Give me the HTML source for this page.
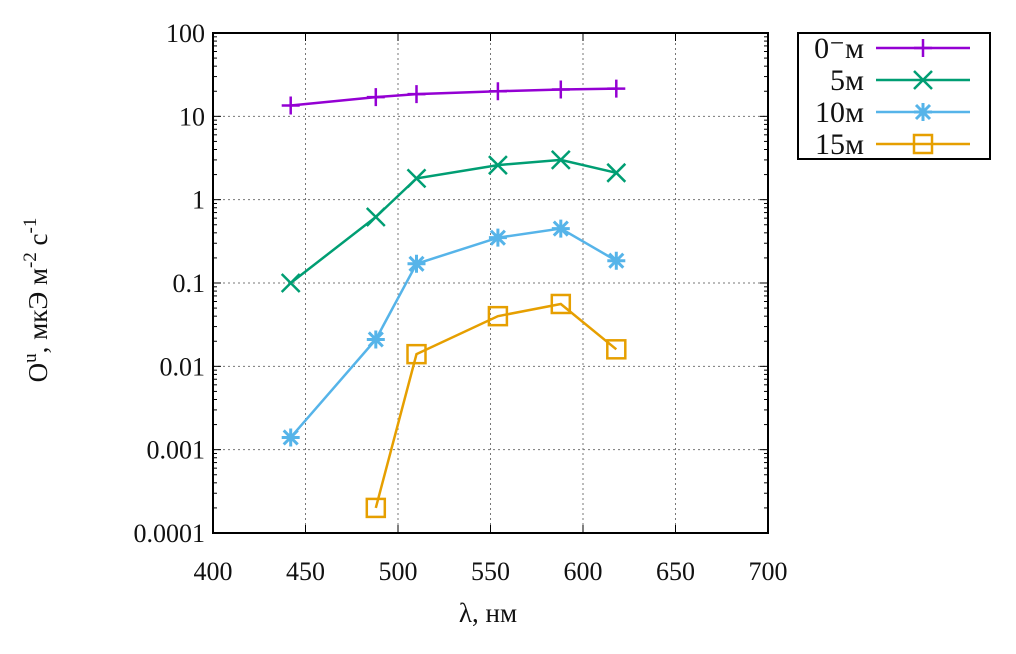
<!DOCTYPE html>
<html><head><meta charset="utf-8"><style>
body{margin:0;background:#fff;}
svg text{font-family:"Liberation Serif","DejaVu Serif",serif;fill:#111;}
</style></head><body>
<svg id="chart" width="1016" height="649" xmlns="http://www.w3.org/2000/svg">
<g id="grid"></g><g id="axes"></g><g id="series"></g><g id="legend"></g>
<text x="488" y="622" font-size="27" text-anchor="middle">λ, нм</text>
<text transform="translate(47,300) rotate(-90)" font-size="27" text-anchor="middle">O<tspan dy="-11" font-size="19">u</tspan><tspan dy="11">, мкЭ м</tspan><tspan dy="-11" font-size="19">-2</tspan><tspan dy="11"> с</tspan><tspan dy="-11" font-size="19">-1</tspan></text>
</svg>
<script>
const xTicks=[400,450,500,550,600,650,700];
const yTicks=[0.0001,0.001,0.01,0.1,1,10,100];
const yTickLabels=["0.0001","0.001","0.01","0.1","1","10","100"];
const wl0=[442,488,510,554,588,618];
const v0=[13.5,17,18.5,20,21,21.5];
const wl5=[442,488,510,554,588,618];
const v5=[0.1,0.62,1.8,2.6,3.0,2.1];
const wl10=[442,488,510,554,588,618];
const v10=[0.0014,0.021,0.17,0.35,0.45,0.185];
const wl15=[488,510,554,588,618];
const v15=[0.0002,0.014,0.04,0.056,0.016];
const names=["0⁻м","5м","10м","15м"];
const L=213,R=768,T=33,B=533;
const xs=v=>L+(v-400)/300*(R-L);
const ys=v=>B-(Math.log10(v)+4)/6*(B-T);
const NS="http://www.w3.org/2000/svg";
function mk(t,a,p){const e=document.createElementNS(NS,t);for(const k in a)e.setAttribute(k,a[k]);p.appendChild(e);return e;}
const grid=document.getElementById('grid'),axes=document.getElementById('axes'),ser=document.getElementById('series'),leg=document.getElementById('legend');
xTicks.forEach((t,i)=>{const x=xs(t);
 if(i>0&&i<xTicks.length-1){const g=mk('line',{x1:x,x2:x,y1:T,y2:B,stroke:'#777','stroke-width':1,'stroke-dasharray':'2,3'},grid);
 
 }
 const tx=mk('text',{x:x,y:B+47,'font-size':26,'text-anchor':'middle'},axes);tx.textContent=t;
 
 
 mk('line',{x1:x,x2:x,y1:B,y2:B-8,stroke:'#000'},axes);mk('line',{x1:x,x2:x,y1:T,y2:T+8,stroke:'#000'},axes);});
yTicks.forEach((t,i)=>{const y=ys(t);
 if(i>0&&i<yTicks.length-1){const g=mk('line',{x1:L,x2:R,y1:y,y2:y,stroke:'#777','stroke-width':1,'stroke-dasharray':'2,3'},grid);
 
 }
 const tx=mk('text',{x:L-8,y:y+9,'font-size':26,'text-anchor':'end'},axes);tx.textContent=yTickLabels[i];
 
 
 mk('line',{x1:L,x2:L+8,y1:y,y2:y,stroke:'#000'},axes);mk('line',{x1:R,x2:R-8,y1:y,y2:y,stroke:'#000'},axes);
 if(i<yTicks.length-1)for(let k=2;k<10;k++){const yy=ys(t*k);mk('line',{x1:L,x2:L+4,y1:yy,y2:yy,stroke:'#000'},axes);mk('line',{x1:R,x2:R-4,y1:yy,y2:yy,stroke:'#000'},axes);}});
const fr=mk('rect',{x:L,y:T,width:R-L,height:B-T,fill:'none',stroke:'#000','stroke-width':2},axes);


function marker(type,x,y,c,p){
 if(type==0){mk('path',{d:`M${x-9},${y}H${x+9}M${x},${y-9}V${y+9}`,stroke:c,'stroke-width':2.5,fill:'none'},p);}
 else if(type==1){mk('path',{d:`M${x-9},${y-9}L${x+9},${y+9}M${x-9},${y+9}L${x+9},${y-9}`,stroke:c,'stroke-width':2.5,fill:'none'},p);}
 else if(type==2){mk('path',{d:`M${x-9},${y}H${x+9}M${x},${y-9}V${y+9}M${x-7},${y-7}L${x+7},${y+7}M${x-7},${y+7}L${x+7},${y-7}`,stroke:c,'stroke-width':3,fill:'none'},p);}
 else {mk('rect',{x:x-9,y:y-9,width:18,height:18,stroke:c,'stroke-width':2.5,fill:'none'},p);}
}
const S=[[wl0,v0,'#9400d3'],[wl5,v5,'#009e73'],[wl10,v10,'#56b4e9'],[wl15,v15,'#e69f00']];
S.forEach(([w,v,c],si)=>{
 const g=mk('g',{},ser);
 
 
 mk('polyline',{points:w.map((x,i)=>xs(x)+','+ys(v[i])).join(' '),fill:'none',stroke:c,'stroke-width':2.5},g);
 w.forEach((x,i)=>marker(si,xs(x),ys(v[i]),c,g));
 const ly=48+si*32;
 const le=mk('g',{},leg);
 
 
 const t=mk('text',{x:864,y:ly+10,'font-size':30,'text-anchor':'end'},le);t.textContent=names[si];
 mk('line',{x1:876,x2:970,y1:ly,y2:ly,stroke:c,'stroke-width':2.5},le);
 marker(si,923,ly,c,le);
});
const lb=mk('rect',{x:798,y:33,width:192,height:126,fill:'none',stroke:'#000','stroke-width':2},leg);


</script>
</body></html>
